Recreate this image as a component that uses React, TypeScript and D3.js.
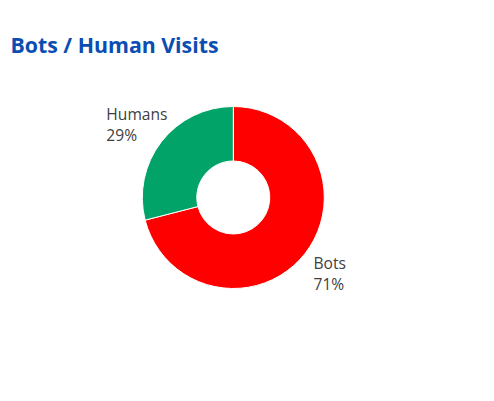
import { useEffect, useRef } from 'react';
import * as d3 from 'd3';

const LABELS = ['Bots', 'Humans'];
const VALUES = [71, 29];
const COLORS = ['#ff0000', '#01a368'];

const W = 494;
const H = 401;

export default function App() {
  const ref = useRef<SVGSVGElement>(null);

  useEffect(() => {
    document.body.style.margin = '0';
    const svg = d3.select(ref.current);
    svg.selectAll('*').remove();

    const cx = 233.3;
    const cy = 197.5;
    const outerR = 91;
    const innerR = 36.5;
    const labelR = 122;

    svg.append('text')
      .attr('x', 10.5)
      .attr('y', 53)
      .attr('font-family', '"Open Sans", sans-serif')
      .attr('font-weight', 700)
      .attr('font-size', 21.3)
      .attr('fill', '#0a4db3')
      .text('Bots / Human Visits');

    const total = d3.sum(VALUES);
    const pie = d3.pie<number>().sort(null).value(d => d);
    const arc = d3.arc<d3.PieArcDatum<number>>().innerRadius(innerR).outerRadius(outerR);
    const arcs = pie(VALUES);

    const g = svg.append('g').attr('transform', `translate(${cx},${cy})`);
    g.selectAll('path')
      .data(arcs)
      .join('path')
      .attr('d', arc)
      .attr('fill', (_, i) => COLORS[i])
      .attr('stroke', '#fff')
      .attr('stroke-width', 1);

    arcs.forEach((a, i) => {
      const mid = (a.startAngle + a.endAngle) / 2;
      const lx = Math.sin(mid) * labelR;
      const ly = -Math.cos(mid) * labelR;
      const lg = g.append('g');
      const lines = [LABELS[i], `${Math.round((VALUES[i] / total) * 100)}%`];
      lines.forEach((t, j) => {
        lg.append('text')
          .attr('x', 0)
          .attr('y', ly - 3 + j * 21)
          .attr('font-family', '"Open Sans", sans-serif')
          .attr('font-size', 15.6)
          .attr('fill', '#404040')
          .text(t);
      });
      const w = (lg.node() as SVGGElement).getBBox().width;
      lg.attr('transform', `translate(${lx - w / 2},0)`);
    });
  }, []);

  return <svg ref={ref} width={W} height={H} style={{ display: 'block', background: '#fff' }} />;
}
